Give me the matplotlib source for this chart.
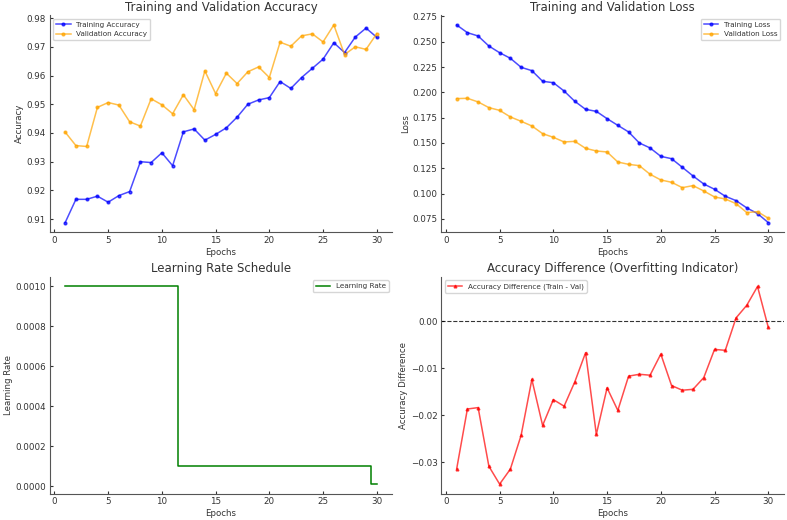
import numpy as np
import matplotlib
matplotlib.use('Agg')
import matplotlib.pyplot as plt

epochs = np.arange(1, 31)

train_acc = [0.9088, 0.9169, 0.9169, 0.9180, 0.9159, 0.9182, 0.9196, 0.9300, 0.9297, 0.9331,
             0.9286, 0.9404, 0.9414, 0.9375, 0.9395, 0.9418, 0.9455, 0.9500, 0.9515, 0.9523,
             0.9579, 0.9555, 0.9593, 0.9625, 0.9657, 0.9714, 0.9680, 0.9734, 0.9765, 0.9733]
val_acc = [0.9403, 0.9356, 0.9353, 0.9489, 0.9506, 0.9497, 0.9439, 0.9424, 0.9519, 0.9498,
           0.9467, 0.9533, 0.9481, 0.9616, 0.9537, 0.9608, 0.9572, 0.9613, 0.9630, 0.9593,
           0.9716, 0.9702, 0.9738, 0.9745, 0.9717, 0.9776, 0.9673, 0.9700, 0.9691, 0.9746]

train_loss = [0.2665, 0.2589, 0.2556, 0.2457, 0.2391, 0.2336, 0.2247, 0.2214, 0.2109, 0.2095,
              0.2013, 0.1911, 0.1832, 0.1812, 0.1740, 0.1674, 0.1609, 0.1500, 0.1451, 0.1368,
              0.1345, 0.1260, 0.1174, 0.1095, 0.1043, 0.0974, 0.0931, 0.0859, 0.0803, 0.0714]
val_loss = [0.1938, 0.1941, 0.1905, 0.1849, 0.1822, 0.1757, 0.1714, 0.1668, 0.1592, 0.1556,
            0.1510, 0.1516, 0.1447, 0.1421, 0.1411, 0.1312, 0.1289, 0.1276, 0.1191, 0.1135,
            0.1112, 0.1059, 0.1079, 0.1026, 0.0967, 0.0947, 0.0901, 0.0813, 0.0822, 0.0757]

lr = [0.001] * 11 + [0.0001] * 18 + [0.00001]

acc_diff = np.array(train_acc) - np.array(val_acc)

plt.rcParams.update({
    'font.family': 'DejaVu Sans',
    'text.color': '#333333',
    'axes.labelcolor': '#333333',
    'axes.edgecolor': '#555555',
    'xtick.color': '#333333',
    'ytick.color': '#333333',
    'xtick.direction': 'in',
    'ytick.direction': 'in',
    'xtick.major.size': 2.5,
    'ytick.major.size': 2.5,
    'xtick.major.pad': 2.5,
    'ytick.major.pad': 2.5,
    'axes.spines.top': False,
    'axes.spines.right': False,
    'font.size': 6.3,
    'axes.titlesize': 8.5,
    'axes.titlepad': 3,
    'axes.labelsize': 6.2,
    'axes.labelpad': 2,
    'legend.fontsize': 5.2,
})

fig, axs = plt.subplots(2, 2, figsize=(7.87, 5.2), dpi=100)

ax = axs[0, 0]
ax.plot(epochs, train_acc, 'o-', color='blue', alpha=0.7, markersize=2, linewidth=1.1, label='Training Accuracy')
ax.plot(epochs, val_acc, 'o-', color='orange', alpha=0.7, markersize=2, linewidth=1.1, label='Validation Accuracy')
ax.set_title('Training and Validation Accuracy')
ax.set_xlabel('Epochs')
ax.set_ylabel('Accuracy')
ax.legend(loc='upper left')

ax = axs[0, 1]
ax.plot(epochs, train_loss, 'o-', color='blue', alpha=0.7, markersize=2, linewidth=1.1, label='Training Loss')
ax.plot(epochs, val_loss, 'o-', color='orange', alpha=0.7, markersize=2, linewidth=1.1, label='Validation Loss')
ax.set_title('Training and Validation Loss')
ax.set_xlabel('Epochs')
ax.set_ylabel('Loss')
ax.legend(loc='upper right')

ax = axs[1, 0]
ax.step(epochs, lr, where='mid', color='green', linewidth=1.1, label='Learning Rate')
ax.set_title('Learning Rate Schedule')
ax.set_xlabel('Epochs')
ax.set_ylabel('Learning Rate')
ax.legend(loc='upper right')

ax = axs[1, 1]
ax.plot(epochs, acc_diff, '^-', color='red', alpha=0.7, markersize=2, linewidth=1.1, label='Accuracy Difference (Train - Val)')
ax.axhline(0, color='black', linestyle='--', linewidth=0.8, alpha=0.8)
ax.set_title('Accuracy Difference (Overfitting Indicator)')
ax.set_xlabel('Epochs')
ax.set_ylabel('Accuracy Difference')
ax.legend(loc='upper left')

plt.subplots_adjust(left=0.063, right=0.996, top=0.971, bottom=0.05, wspace=0.142, hspace=0.203)
plt.savefig('out.png')
